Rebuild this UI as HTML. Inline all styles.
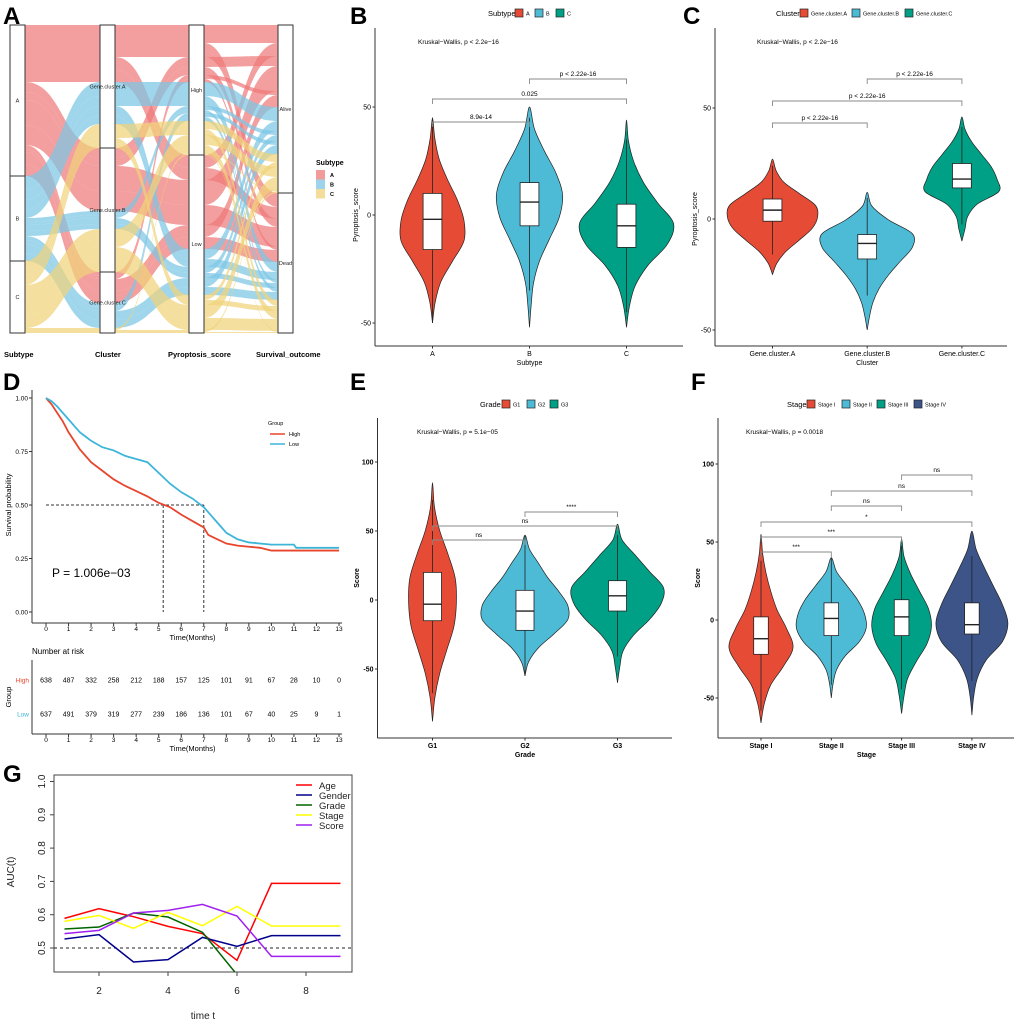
<!DOCTYPE html>
<html><head><meta charset="utf-8"><style>
html,body{margin:0;padding:0;background:#fff;}
svg{display:block;font-family:"Liberation Sans",Arial,sans-serif;}
</style></head><body>
<svg id="fig" width="1020" height="1024" viewBox="0 0 1020 1024" xmlns="http://www.w3.org/2000/svg">
<rect width="1020" height="1024" fill="#fff"/>
<g font-weight="bold" font-size="24" fill="#000">
<text x="3" y="24">A</text>
<text x="350" y="24">B</text>
<text x="683" y="24">C</text>
<text x="3" y="390">D</text>
<text x="350" y="390">E</text>
<text x="691" y="390">F</text>
<text x="3" y="782">G</text>
</g>
<g id="pA"></g>
<g id="pB"></g>
<g id="pC"></g>
<g id="pD"></g>
<g id="pE"></g>
<g id="pF"></g>
<g id="pG"></g>
</svg>
<script>
// ---------- Panel A data ----------
const alSubtypes = ["A","B","C"];
const alClusters = ["Gene.cluster.A","Gene.cluster.B","Gene.cluster.C"];
const alPyro = ["High","Low"];
const alSurv = ["Alive","Dead"];
const alluvia = [
 [0,0,0,0,18],[0,0,0,1,14],[0,0,1,0,13],[0,0,1,1,12],
 [0,1,0,0,10],[0,1,0,1,8],[0,1,1,0,25],[0,1,1,1,20],
 [0,2,0,0,4],[0,2,0,1,3],[0,2,1,0,12],[0,2,1,1,12],
 [1,0,0,0,14],[1,0,0,1,10],[1,0,1,0,10],[1,0,1,1,8],
 [1,1,0,0,4],[1,1,0,1,3],[1,1,1,0,6],[1,1,1,1,5],
 [1,2,0,0,4],[1,2,0,1,4],[1,2,1,0,9],[1,2,1,1,8],
 [2,0,0,0,8],[2,0,0,1,6],[2,0,1,0,5],[2,0,1,1,5],
 [2,1,0,0,10],[2,1,0,1,8],[2,1,1,0,13],[2,1,1,1,12],
 [2,2,0,0,1],[2,2,0,1,1],[2,2,1,0,2],[2,2,1,1,1]
];
// ---------- Panel B data ----------
const bCats = ["A","B","C"];
const bMin = [-50,-52,-52], bMax = [45,50,44];
const bQ1 = [-16,-5,-15], bMed = [-2,6,-5], bQ3 = [10,15,5];
const bPeak = [0.69,0.69,1];
const bDens = [[0,0.08,0.25,0.6,0.95,0.95,0.75,0.45,0.2,0.07,0],[0,0.05,0.12,0.3,0.6,0.9,1,0.8,0.45,0.15,0],[0,0.06,0.18,0.45,0.85,0.98,0.65,0.35,0.15,0.04,0]];
const bTicks = [-50,0,50];
const bComp = [[0,1,"8.9e-14"],[0,2,"0.025"],[1,2,"p < 2.22e-16"]];
// ---------- Panel C data ----------
const cCats = ["Gene.cluster.A","Gene.cluster.B","Gene.cluster.C"];
const cMin = [-25,-50,-10], cMax = [27,12,46];
const cQ1 = [-1,-18,14], cMed = [4,-11,18], cQ3 = [9,-7,25];
const cPeak = [0.95,1,0.82];
const cDens = [[0,0.1,0.3,0.6,0.88,1,0.95,0.6,0.25,0.08,0],[0,0.05,0.12,0.25,0.45,0.7,0.95,0.95,0.45,0.1,0],[0,0.08,0.15,0.4,0.95,0.9,0.75,0.5,0.25,0.08,0]];
const cTicks = [-50,0,50];
const cComp = [[0,1,"p < 2.22e-16"],[0,2,"p < 2.22e-16"],[1,2,"p < 2.22e-16"]];
// ---------- Panel E data ----------
const eCats = ["G1","G2","G3"];
const eMin = [-88,-55,-60], eMax = [85,47,55];
const eQ1 = [-15,-22,-8], eMed = [-3,-8,3], eQ3 = [20,7,14];
const ePeak = [0.52,0.98,1];
const eDens = [[0,0.1,0.3,0.6,0.9,1,0.95,0.65,0.3,0.08,0],[0,0.08,0.3,0.65,0.95,0.95,0.75,0.5,0.3,0.1,0],[0,0.05,0.12,0.35,0.7,0.95,1,0.7,0.4,0.1,0]];
const eTicks = [-50,0,50,100];
const eComp = [[0,1,"ns"],[0,2,"ns"],[1,2,"****"]];
// ---------- Panel F data ----------
const fCats = ["Stage I","Stage II","Stage III","Stage IV"];
const fMin = [-66,-50,-60,-61], fMax = [55,40,52,57];
const fQ1 = [-22,-10,-10,-9], fMed = [-12,1,2,-3], fQ3 = [2,11,13,11];
const fPeak = [0.89,0.97,0.83,1];
const fDens = [[0,0.1,0.3,0.7,1,0.8,0.5,0.3,0.15,0.05,0],[0,0.05,0.15,0.4,0.8,1,0.95,0.75,0.45,0.15,0],[0,0.08,0.2,0.5,0.85,1,0.9,0.6,0.3,0.08,0],[0,0.05,0.15,0.4,0.85,1,0.85,0.6,0.35,0.12,0]];
const fTicks = [-50,0,50,100];
const fComp = [[0,1,"***"],[0,2,"***"],[0,3,"*"],[1,2,"ns"],[1,3,"ns"],[2,3,"ns"]];
// ---------- Panel D data ----------
const kmHighT = [0,0.25,0.5,0.75,1,1.25,1.5,1.75,2,2.5,3,3.5,4,4.5,5,5.5,6,6.5,7,7.2,7.5,8,8.5,9,9.5,10,11,12,13];
const kmHighS = [1,0.97,0.93,0.89,0.84,0.8,0.76,0.73,0.7,0.66,0.62,0.59,0.565,0.54,0.51,0.49,0.455,0.425,0.395,0.36,0.345,0.32,0.31,0.305,0.3,0.287,0.287,0.287,0.287];
const kmLowT = [0,0.25,0.5,0.75,1,1.25,1.5,1.75,2,2.5,3,3.5,4,4.5,5,5.5,6,6.5,7,7.25,7.5,7.75,8,8.5,9,10,11,11.1,13];
const kmLowS = [1,0.985,0.96,0.93,0.9,0.87,0.84,0.82,0.8,0.77,0.755,0.73,0.715,0.7,0.65,0.6,0.56,0.53,0.49,0.46,0.43,0.4,0.37,0.34,0.325,0.315,0.315,0.3,0.3];
const kmTicks = [0,1,2,3,4,5,6,7,8,9,10,11,12,13];
const kmYTicks = [0,0.25,0.5,0.75,1];
const kmYLabels = ["0.00","0.25","0.50","0.75","1.00"];
const riskHigh = [638,487,332,258,212,188,157,125,101,91,67,28,10,0];
const riskLow = [637,491,379,319,277,239,186,136,101,67,40,25,9,1];
const medianHigh = 5.2, medianLow = 7.0;
// ---------- Panel G data ----------
const aucTimes = [1,2,3,4,5,6,7,8,9];
const aucAge = [0.589,0.618,0.594,0.565,0.543,0.463,0.694,0.694,0.694];
const aucGender = [0.527,0.540,0.458,0.465,0.532,0.505,0.537,0.537,0.537];
const aucGrade = [0.557,0.563,0.605,0.593,0.547,0.42];
const aucStage = [0.580,0.598,0.559,0.607,0.567,0.625,0.566,0.566,0.566];
const aucScore = [0.543,0.553,0.605,0.613,0.631,0.596,0.475,0.475,0.475];
const aucXTicks = [2,4,6,8];
const aucYTicks = [0.5,0.6,0.7,0.8,0.9,1.0];

const NS="http://www.w3.org/2000/svg";
function mk(parent,tag,attrs,txt){const e=document.createElementNS(NS,tag);for(const k in attrs)e.setAttribute(k,attrs[k]);if(txt!==undefined)e.textContent=txt;parent.appendChild(e);return e;}
const PAL=["#E64B35","#4DBBD5","#00A087","#3C5488"];

// ================= Panel A =================
(function(){
 const g=document.getElementById('pA');
 const axX=[10,100,189,278], bw=15, top=25;
 const strata=[alSubtypes,alClusters,alPyro,alSurv];
 const cols=["#EE7A7A","#7CC6E4","#F0D27A"];
 const pos=[];
 for(let k=0;k<4;k++){
  const idx=alluvia.map((a,i)=>i);
  const order=[k,0,1,2,3];
  idx.sort((i,j)=>{for(const o of order){if(alluvia[i][o]!==alluvia[j][o])return alluvia[i][o]-alluvia[j][o];}return 0;});
  let y=top;const p=[];
  idx.forEach(i=>{p[i]=y;y+=alluvia[i][4];});
  pos.push(p);
 }
 for(let k=0;k<3;k++){
  const x1=axX[k]+bw,x2=axX[k+1],xm=(x1+x2)/2;
  alluvia.forEach((a,i)=>{
   const y0=pos[k][i],y1=pos[k+1][i],n=a[4];
   const f=mk(g,'path',{d:`M${x1},${y0}C${xm},${y0} ${xm},${y1} ${x2},${y1}L${x2},${y1+n}C${xm},${y1+n} ${xm},${y0+n} ${x1},${y0+n}Z`,fill:cols[a[0]],'fill-opacity':0.72});
   
   
  });
 }
 for(let k=0;k<4;k++){
  let y=top;
  strata[k].forEach((s,si)=>{
   const h=alluvia.filter(a=>a[k]===si).reduce((t,a)=>t+a[4],0);
   const r=mk(g,'rect',{x:axX[k],y:y,width:bw,height:h,fill:'#fff',stroke:'#333','stroke-width':1});
   
   
   const t=mk(g,'text',{x:axX[k]+bw/2,y:y+h/2+2,'font-size':5.5,'text-anchor':'middle',fill:'#222'},s);
   
   
   y+=h;
  });
 }
 const names=["Subtype","Cluster","Pyroptosis_score","Survival_outcome"];
 const nx=[4,95,168,256];
 names.forEach((n,i)=>{const t=mk(g,'text',{x:nx[i],y:357,'font-size':7.5,'font-weight':'bold'},n);
  
  });
 const lt=mk(g,'text',{x:316,y:165,'font-size':7,'font-weight':'bold'},'Subtype');
 
 
 alSubtypes.forEach((s,i)=>{
  const r=mk(g,'rect',{x:316,y:170+i*9.5,width:9,height:9.5,fill:cols[i],'fill-opacity':0.75});
  
  
  const t=mk(g,'text',{x:330,y:177+i*9.5,'font-size':5.5,'font-weight':'bold'},s);
  
  
 });
})();

// ================= Violin panels =================
function smooth(pts){let d=`M${pts[0][0]},${pts[0][1]}`;for(let i=0;i<pts.length-1;i++){const p0=pts[Math.max(0,i-1)],p1=pts[i],p2=pts[i+1],p3=pts[Math.min(pts.length-1,i+2)];d+=`C${p1[0]+(p2[0]-p0[0])/6},${p1[1]+(p2[1]-p0[1])/6} ${p2[0]-(p3[0]-p1[0])/6},${p2[1]-(p3[1]-p1[1])/6} ${p2[0]},${p2[1]}`;}return d+'Z';}
function violinPanel(c){
 const g=document.getElementById(c.id);
 const y=v=>c.y0-v*c.ppu;
 const x=i=>c.cx0+i*c.dx;
 const ya=mk(g,'line',{x1:c.ax,y1:c.top,x2:c.ax,y2:c.bot,stroke:'#333','stroke-width':1});
 
 
 const xa=mk(g,'line',{x1:c.ax,y1:c.bot,x2:c.axEnd,y2:c.bot,stroke:'#333','stroke-width':1});
 
 
 c.ticks.forEach(t=>{
  const l=mk(g,'line',{x1:c.ax-2.5,x2:c.ax,y1:y(t),y2:y(t),stroke:'#333'});
  
  
  const tx=mk(g,'text',{x:c.ax-4,y:y(t)+2.5,'font-size':7,'text-anchor':'end','font-weight':c.bold?'bold':'normal'},t);
  
  
 });
 const yt=mk(g,'text',{x:0,y:0,'font-size':7,'text-anchor':'middle','font-weight':c.bold?'bold':'normal',transform:`translate(${c.ytx},${c.yty}) rotate(-90)`},c.ytitle);
 
 
 const xt=mk(g,'text',{x:(x(0)+x(c.cats.length-1))/2,y:c.bot+19,'font-size':7,'text-anchor':'middle','font-weight':c.bold?'bold':'normal'},c.xtitle);
 
 
 const kw=mk(g,'text',{x:c.kwx,y:c.top+16,'font-size':6.5},c.kw);
 
 
 c.cats.forEach((cat,i)=>{
  const cx=x(i),mn=c.min[i],mx=c.max[i],dens=c.dens[i],n=dens.length;
  const right=[],left=[];
  for(let k=0;k<n;k++){const v=mn+k*(mx-mn)/(n-1);right.push([cx+dens[k]*c.peak[i]*c.wscale,y(v)]);}
  for(let k=n-1;k>=0;k--){const v=mn+k*(mx-mn)/(n-1);left.push([cx-dens[k]*c.peak[i]*c.wscale,y(v)]);}
  const vp=mk(g,'path',{d:smooth(right.concat(left.slice(1))),fill:PAL[i],stroke:'#222','stroke-width':0.7});
  
  
  const iqr=c.q3[i]-c.q1[i];
  const wl=Math.max(mn,c.q1[i]-1.5*iqr),wh=Math.min(mx,c.q3[i]+1.5*iqr);
  const wk=mk(g,'line',{x1:cx,x2:cx,y1:y(wl),y2:y(wh),stroke:'#222','stroke-width':0.8});
  
  
  const bx=mk(g,'rect',{x:cx-c.bw,y:y(c.q3[i]),width:2*c.bw,height:y(c.q1[i])-y(c.q3[i]),fill:'#fff',stroke:'#222','stroke-width':0.8});
  
  
  const md=mk(g,'line',{x1:cx-c.bw,x2:cx+c.bw,y1:y(c.med[i]),y2:y(c.med[i]),stroke:'#222','stroke-width':1.4});
  
  
  const tk=mk(g,'line',{x1:cx,x2:cx,y1:c.bot,y2:c.bot+2.5,stroke:'#333'});
  
  
  const tl=mk(g,'text',{x:cx,y:c.bot+10,'font-size':7,'text-anchor':'middle','font-weight':c.bold?'bold':'normal'},cat);
  
  
 });
 c.comp.forEach((cp,k)=>{
  const by=c.brY[k],x1=x(cp[0]),x2=x(cp[1]);
  const br=mk(g,'path',{d:`M${x1},${by+5}V${by}H${x2}V${by+5}`,fill:'none',stroke:'#888','stroke-width':0.9});
  
  
  const bt=mk(g,'text',{x:(x1+x2)/2,y:by-3,'font-size':6.5,'text-anchor':'middle'},cp[2]);
  
  
 });
 const lt=mk(g,'text',{x:c.legX,y:c.legY+3,'font-size':7.5},c.legTitle);
 
 
 c.cats.forEach((cat,i)=>{
  const lx=c.legKeys[i];
  const r=mk(g,'rect',{x:lx,y:c.legY-4,width:8,height:8,fill:PAL[i],stroke:'#222','stroke-width':0.7});
  
  
  const t=mk(g,'text',{x:lx+11,y:c.legY+2.5,'font-size':5.5},cat);
  
  
 });
}
violinPanel({id:'pB',cats:bCats,min:bMin,max:bMax,q1:bQ1,med:bMed,q3:bQ3,peak:bPeak,dens:bDens,ticks:bTicks,comp:bComp,
 y0:215,ppu:108/50,cx0:432.5,dx:97,ax:375,axEnd:683,top:28,bot:346,wscale:48,bw:9.4,ytx:358,yty:215,ytitle:'Pyroptosis_score',xtitle:'Subtype',
 kwx:418,kw:'Kruskal−Wallis, p < 2.2e−16',brY:[122,99,79],legX:488,legY:13,legTitle:'Subtype',legKeys:[515,535,556]});
violinPanel({id:'pC',cats:cCats,min:cMin,max:cMax,q1:cQ1,med:cMed,q3:cQ3,peak:cPeak,dens:cDens,ticks:cTicks,comp:cComp,
 y0:219,ppu:111/50,cx0:772.5,dx:94.7,ax:715,axEnd:1007,top:28,bot:346,wscale:47.5,bw:9.4,ytx:697,yty:219,ytitle:'Pyroptosis_score',xtitle:'Cluster',
 kwx:757,kw:'Kruskal−Wallis, p < 2.2e−16',brY:[123,101,79],legX:776,legY:13,legTitle:'Cluster',legKeys:[800,852,905]});
violinPanel({id:'pE',cats:eCats,min:eMin,max:eMax,q1:eQ1,med:eMed,q3:eQ3,peak:ePeak,dens:eDens,ticks:eTicks,comp:eComp,bold:true,
 y0:600,ppu:69/50,cx0:432.5,dx:92.5,ax:377.5,axEnd:672,top:418,bot:738,wscale:46,bw:9,ytx:359,yty:578,ytitle:'Score',xtitle:'Grade',
 kwx:417,kw:'Kruskal−Wallis, p = 5.1e−05',brY:[540,526,512],legX:480,legY:404,legTitle:'Grade',legKeys:[502,527,550]});
violinPanel({id:'pF',cats:fCats,min:fMin,max:fMax,q1:fQ1,med:fMed,q3:fQ3,peak:fPeak,dens:fDens,ticks:fTicks,comp:fComp,bold:true,
 y0:620,ppu:78/50,cx0:761,dx:70.3,ax:718,axEnd:1014,top:418,bot:738,wscale:36,bw:7.3,ytx:700,yty:578,ytitle:'Score',xtitle:'Stage',
 kwx:746,kw:'Kruskal−Wallis, p = 0.0018',brY:[552,537,522,506,491,475],legX:787,legY:404,legTitle:'Stage',legKeys:[807,842,877,914]});

// ================= Panel D =================
(function(){
 const g=document.getElementById('pD');
 const x=m=>46+m*22.54, y=p=>612-p*214;
 const la=(a,n)=>{const e=mk(g,'line',a);return e;};
 la({x1:32,y1:390,x2:32,y2:623,stroke:'#333'},'y-axis');
 la({x1:32,y1:623,x2:342,y2:623,stroke:'#333'},'x-axis');
 kmYTicks.forEach((t,i)=>{
  la({x1:29,x2:32,y1:y(t),y2:y(t),stroke:'#333'},'y-tick');
  const tx=mk(g,'text',{x:28,y:y(t)+2.5,'font-size':6.5,'text-anchor':'end'},kmYLabels[i]);
  
  
 });
 kmTicks.forEach(t=>{
  la({x1:x(t),x2:x(t),y1:623,y2:626,stroke:'#333'},'x-tick');
  const tx=mk(g,'text',{x:x(t),y:631,'font-size':6.5,'text-anchor':'middle'},t);
  
  
 });
 const xt=mk(g,'text',{x:x(6.5),y:640,'font-size':7.5,'text-anchor':'middle'},'Time(Months)');
 
 
 const yt=mk(g,'text',{x:0,y:0,'font-size':7.5,'text-anchor':'middle',transform:'translate(11,505) rotate(-90)'},'Survival probability');
 
 
 la({x1:x(0),x2:x(medianLow),y1:y(0.5),y2:y(0.5),stroke:'#333','stroke-dasharray':'3,2'},'median-line');
 la({x1:x(medianHigh),x2:x(medianHigh),y1:y(0.5),y2:y(0),stroke:'#333','stroke-dasharray':'3,2'},'median-high-drop');
 la({x1:x(medianLow),x2:x(medianLow),y1:y(0.5),y2:y(0),stroke:'#333','stroke-dasharray':'3,2'},'median-low-drop');
 function line(T,S){return T.map((t,i)=>`${x(t)},${y(S[i])}`).join(' ');}
 const ch=mk(g,'polyline',{points:line(kmHighT,kmHighS),fill:'none',stroke:'#E8452C','stroke-width':1.8});
 
 
 const cl=mk(g,'polyline',{points:line(kmLowT,kmLowS),fill:'none',stroke:'#3DB5D9','stroke-width':1.8});
 
 
 const pv=mk(g,'text',{x:52,y:577,'font-size':12},'P = 1.006e−03');
 
 
 const lg=mk(g,'text',{x:268,y:425,'font-size':5.5},'Group');
 
 
 [['High','#E8452C',434],['Low','#3DB5D9',444]].forEach(L=>{
  la({x1:270,x2:285,y1:L[2],y2:L[2],stroke:L[1],'stroke-width':1.5},'legend-key');
  const t=mk(g,'text',{x:289,y:L[2]+2,'font-size':5.5},L[0]);
  
  
 });
 const rt=mk(g,'text',{x:32,y:654,'font-size':8},'Number at risk');
 
 
 la({x1:32,y1:660,x2:32,y2:734,stroke:'#333'},'risk-y-axis');
 la({x1:32,y1:734,x2:342,y2:734,stroke:'#333'},'risk-x-axis');
 [[riskHigh,680,'High','#E8452C'],[riskLow,714,'Low','#3DB5D9']].forEach(R=>{
  const lb=mk(g,'text',{x:29,y:R[1]+2.5,'font-size':6.5,'text-anchor':'end',fill:R[3]},R[2]);
  
  
  R[0].forEach((v,i)=>{
   const t=mk(g,'text',{x:x(kmTicks[i]),y:R[1]+2.5,'font-size':7,'text-anchor':'middle'},v);
   
   
  });
 });
 kmTicks.forEach(t=>{
  la({x1:x(t),x2:x(t),y1:734,y2:737,stroke:'#333'},'risk-x-tick');
  const tx=mk(g,'text',{x:x(t),y:742,'font-size':6.5,'text-anchor':'middle'},t);
  
  
 });
 const xt2=mk(g,'text',{x:x(6.5),y:751,'font-size':7.5,'text-anchor':'middle'},'Time(Months)');
 
 
 const gt=mk(g,'text',{x:0,y:0,'font-size':7.5,'text-anchor':'middle',transform:'translate(11,697) rotate(-90)'},'Group');
 
 
})();

// ================= Panel G =================
(function(){
 const g=document.getElementById('pG');
 const x=t=>64.5+(t-1)*34.5, y=v=>948-(v-0.5)*333;
 const L=54,R=352,T=775,B=972;
 mk(g,'clipPath',{id:'gclip'}).appendChild(document.createElementNS(NS,'rect'));
 const cr=g.querySelector('#gclip rect');cr.setAttribute('x',L);cr.setAttribute('y',T);cr.setAttribute('width',R-L);cr.setAttribute('height',B-T);
 const box=mk(g,'rect',{x:L,y:T,width:R-L,height:B-T,fill:'none',stroke:'#444','stroke-width':1});
 
 
 aucYTicks.forEach(t=>{
  const l=mk(g,'line',{x1:L-4,x2:L,y1:y(t),y2:y(t),stroke:'#444'});
  
  
  const tx=mk(g,'text',{x:0,y:0,'font-size':10,'text-anchor':'middle',fill:'#222',transform:`translate(${L-9},${y(t)}) rotate(-90)`},t.toFixed(1));
  
  
 });
 aucXTicks.forEach(t=>{
  const l=mk(g,'line',{x1:x(t),x2:x(t),y1:B,y2:B+4,stroke:'#444'});
  
  
  const tx=mk(g,'text',{x:x(t),y:B+22,'font-size':10,'text-anchor':'middle',fill:'#222'},t);
  
  
 });
 const xt=mk(g,'text',{x:(L+R)/2,y:1019,'font-size':10,'text-anchor':'middle',fill:'#222'},'time t');
 
 
 const yt=mk(g,'text',{x:0,y:0,'font-size':10,'text-anchor':'middle',fill:'#222',transform:'translate(14,872) rotate(-90)'},'AUC(t)');
 
 
 const ref=mk(g,'line',{x1:L,x2:R,y1:y(0.5),y2:y(0.5),stroke:'#222','stroke-dasharray':'3,3'});
 
 
 const series=[["Age",aucAge,"#FF0000"],["Gender",aucGender,"#00008B"],["Grade",aucGrade,"#006400"],["Stage",aucStage,"#FFFF00"],["Score",aucScore,"#A020F0"]];
 series.forEach((s,k)=>{
  const pts=s[1].map((v,i)=>`${x(aucTimes[i])},${y(v)}`).join(' ');
  const pl=mk(g,'polyline',{points:pts,fill:'none',stroke:s[2],'stroke-width':1.5,'clip-path':'url(#gclip)'});
  
  
  const ll=mk(g,'line',{x1:296,x2:312,y1:785+k*10,y2:785+k*10,stroke:s[2],'stroke-width':1.5});
  
  
  const lt=mk(g,'text',{x:319,y:789+k*10,'font-size':9.5,fill:'#222'},s[0]);
  
  
 });
})();
</script>
</body></html>
